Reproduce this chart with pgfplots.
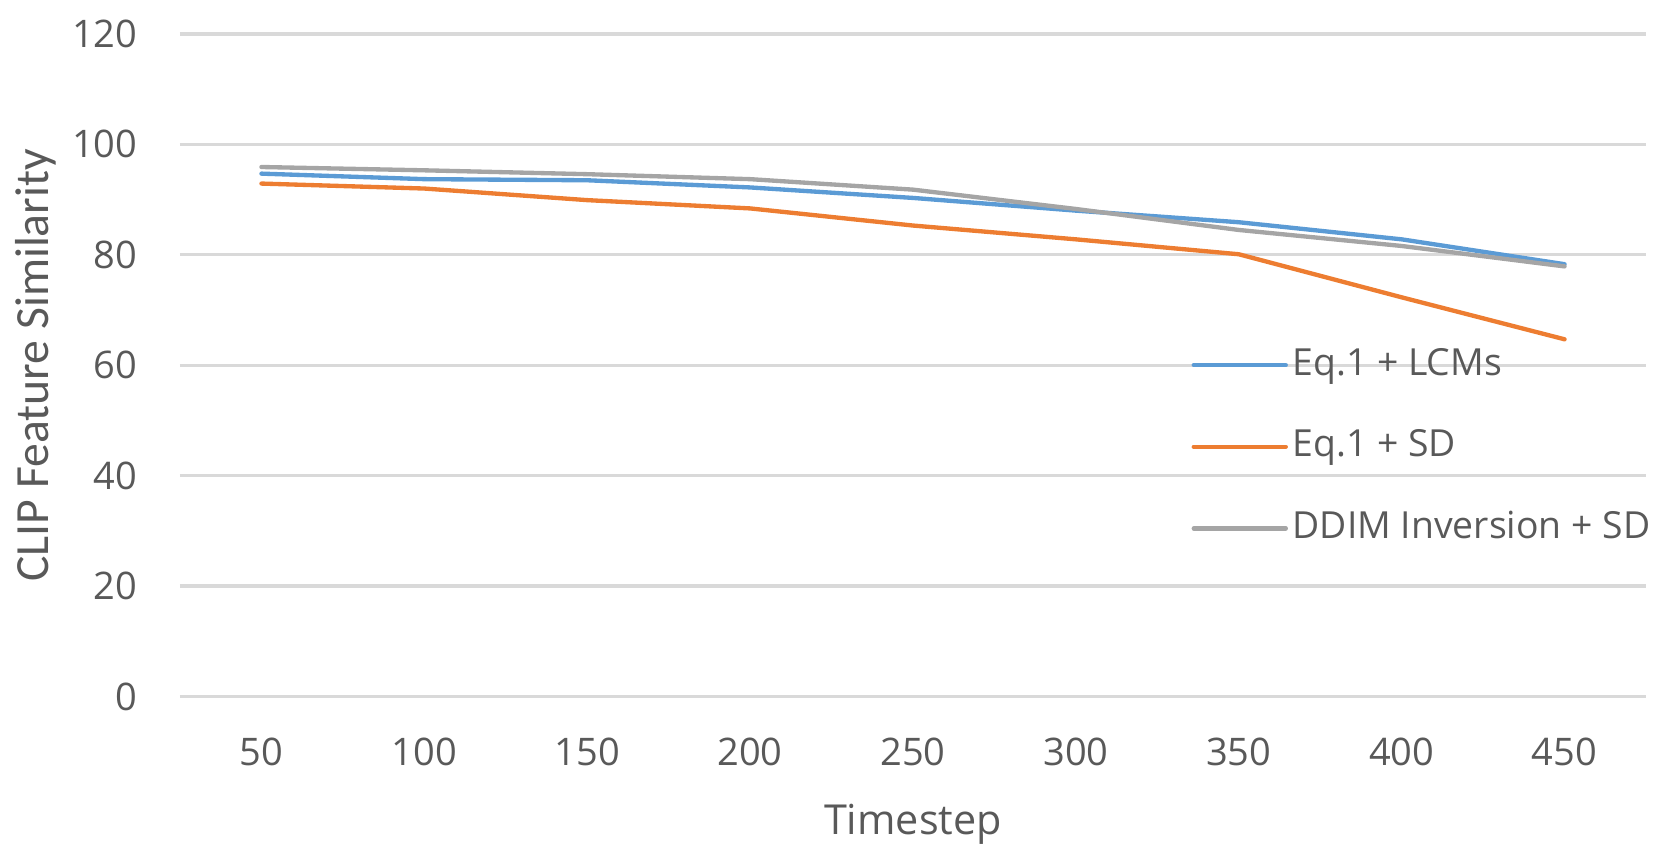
\documentclass[border=0pt]{standalone}
\usepackage{pgfplots}
\pgfplotsset{compat=1.18}
\usepackage{fontspec}
\setmainfont{Open Sans}
\newfontfamily\calibri{Carlito}
\definecolor{cblue}{HTML}{5B9BD5}
\definecolor{corange}{HTML}{ED7D31}
\definecolor{cgray}{HTML}{A5A5A5}
\definecolor{gridc}{HTML}{D9D9D9}
\definecolor{txt}{HTML}{595959}
\begin{document}
\begin{tikzpicture}
\useasboundingbox (-54pt,-46.92pt) rectangle (444pt,208.98pt);
\begin{axis}[
  at={(0,0)}, anchor=south west,
  scale only axis,
  width=439.8pt, height=198.8pt,
  xmin=-0.5, xmax=8.5, ymin=0, ymax=120,
  xtick={0,...,8},
  xticklabels={50,100,150,200,250,300,350,400,450},
  ytick={0,20,...,120},
  axis line style={draw=none},
  major tick length=0pt,
  ymajorgrids, xmajorgrids=false,
  major grid style={gridc, line width=1pt},
  /pgf/number format/assume math mode=true,
  tick label style={font=\fontsize{11.4}{13}\selectfont, text=txt},
  xticklabel style={anchor=center, yshift=-16.6pt, inner sep=0pt},
  yticklabel style={anchor=east, xshift=-12.6pt, inner sep=0pt},
  xlabel={Timestep},
  xlabel style={at={(axis description cs:0.5,0)}, anchor=center, yshift=-38.2pt, font=\fontsize{12.4}{15}\selectfont, text=txt, inner sep=0pt},
  ylabel={\calibri CLIP Feature Similarity},
  ylabel style={at={(axis description cs:0,0.5)}, anchor=center, yshift=43.4pt, font=\fontsize{14.3}{16}\selectfont, text=txt, inner sep=0pt},
  legend style={draw=none, fill=none, at={(axis description cs:0.6896,0.377)}, anchor=west,
    inner sep=0pt, row sep=12.5pt, font=\fontsize{11.2}{13}\selectfont, text=txt,
    nodes={inner sep=0pt, text height=9pt, text depth=3pt}},
  legend cell align=left,
  legend image code/.code={\draw[#1, line cap=round] (0pt,0pt) -- (27.6pt,0pt); \path (29pt,0pt);},
  every axis plot/.append style={line width=1.3pt, line join=round, line cap=round},
]
\addplot[cblue] coordinates {(0,94.7) (1,93.7) (2,93.5) (3,92.2) (4,90.3) (5,88.0) (6,85.9) (7,82.8) (8,78.3)};
\addlegendentry{Eq.1 + LCMs}
\addplot[corange] coordinates {(0,92.9) (1,92.0) (2,89.9) (3,88.4) (4,85.3) (5,82.8) (6,80.1) (7,72.3) (8,64.7)};
\addlegendentry{Eq.1 + SD}
\addplot[cgray] coordinates {(0,95.9) (1,95.3) (2,94.6) (3,93.7) (4,91.8) (5,88.3) (6,84.5) (7,81.6) (8,77.9)};
\addlegendentry{DDIM Inversion + SD}
\end{axis}
\end{tikzpicture}
\end{document}
